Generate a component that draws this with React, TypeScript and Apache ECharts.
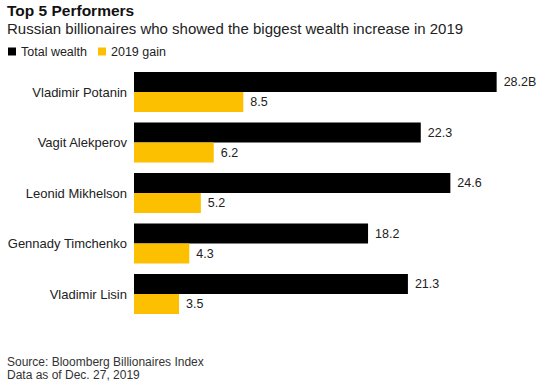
import React, { useEffect, useRef } from "react";
import * as echarts from "echarts";

const categories = ["Vladimir Potanin", "Vagit Alekperov", "Leonid Mikhelson", "Gennady Timchenko", "Vladimir Lisin"];
const totalWealth = [28.2, 22.3, 24.6, 18.2, 21.3];
const gain2019 = [8.5, 6.2, 5.2, 4.3, 3.5];
const seriesNames = ["Total wealth", "2019 gain"];

const FONT = "Liberation Sans, Arial, Helvetica, sans-serif";

export default function App() {
  const ref = useRef<HTMLDivElement>(null);
  useEffect(() => {
    if (!ref.current) return;
    const chart = echarts.init(ref.current, undefined, { renderer: "svg" });
    chart.setOption({
      animation: false,
      backgroundColor: "#ffffff",
      textStyle: { fontFamily: FONT },
      title: [
        {
          text: "Top 5 Performers",
          left: 7,
          top: 2,
          padding: 0,
          textStyle: { fontFamily: FONT, fontSize: 15.5, fontWeight: "bold", color: "#111" },
        },
        {
          text: "Russian billionaires who showed the biggest wealth increase in 2019",
          left: 7,
          top: 21,
          padding: 0,
          textStyle: { fontFamily: FONT, fontSize: 15, fontWeight: "normal", color: "#222" },
        },
        {
          text: "Source: Bloomberg Billionaires Index\nData as of Dec. 27, 2019",
          left: 7,
          top: 355,
          padding: 0,
          textStyle: { fontFamily: FONT, fontSize: 12, fontWeight: "normal", color: "#333", lineHeight: 13.5 },
        },
      ],
      legend: {
        data: seriesNames,
        left: 8,
        top: 45,
        padding: 0,
        icon: "rect",
        itemWidth: 8,
        itemHeight: 8,
        itemGap: 11,
        textStyle: { fontFamily: FONT, fontSize: 12.5, color: "#222" },
      },
      grid: { left: 134, right: 30.2, top: 66.75, bottom: 387 - 319.25, containLabel: false },
      xAxis: {
        type: "value",
        min: 0,
        max: 30,
        show: false,
      },
      yAxis: {
        type: "category",
        data: categories,
        inverse: true,
        axisLine: { show: false },
        axisTick: { show: false },
        axisLabel: { fontFamily: FONT, fontSize: 13, color: "#222", margin: 7 },
      },
      series: [
        {
          name: seriesNames[0],
          type: "bar",
          data: totalWealth,
          barWidth: 20,
          barGap: "0%",
          itemStyle: { color: "#000000" },
          label: {
            show: true,
            position: "right",
            distance: 7,
            fontFamily: FONT,
            fontSize: 12.5,
            color: "#222",
            formatter: (p: any) => (p.dataIndex === 0 ? p.value + "B" : String(p.value)),
          },
        },
        {
          name: seriesNames[1],
          type: "bar",
          data: gain2019,
          barWidth: 20,
          barGap: "0%",
          itemStyle: { color: "#fcc000" },
          label: {
            show: true,
            position: "right",
            distance: 7,
            fontFamily: FONT,
            fontSize: 12.5,
            color: "#222",
          },
        },
      ],
    });
    return () => chart.dispose();
  }, []);
  return <div ref={ref} style={{ position: "fixed", left: 0, top: 0, width: 550, height: 387 }} />;
}
